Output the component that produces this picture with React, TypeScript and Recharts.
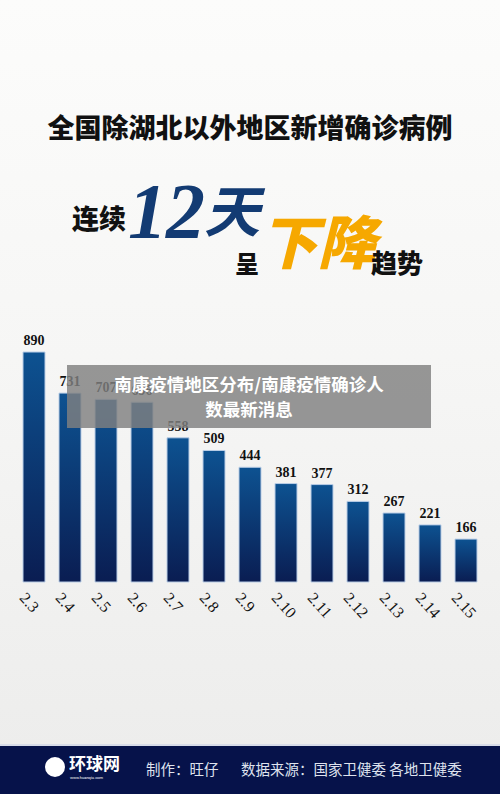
import { BarChart, Bar, XAxis, YAxis, LabelList } from 'recharts'

const dates = ['2.3', '2.4', '2.5', '2.6', '2.7', '2.8', '2.9', '2.10', '2.11', '2.12', '2.13', '2.14', '2.15']
const newCases = [890, 731, 707, 696, 558, 509, 444, 381, 377, 312, 267, 221, 166]

const data = dates.map((d, i) => ({ date: d, cases: newCases[i] }))

const serif = '"Liberation Serif", "DejaVu Serif", serif'
const cjk = '"Noto Sans CJK SC", sans-serif'

function DateTick({ x, y, payload }: any) {
    const tx = x - 7
    const ty = y + 1
    return (
        <text
            x={tx}
            y={ty}
            transform={`rotate(48, ${tx}, ${ty})`}
            fontFamily={serif}
            fontSize={16}
            fill="#111"
            textAnchor="start"
            dominantBaseline="hanging"
        >
            {payload.value}
        </text>
    )
}

function App() {
    return (
        <div
            style={{
                position: 'absolute',
                left: 0,
                top: 0,
                width: 500,
                height: 794,
                overflow: 'hidden',
                background: 'linear-gradient(180deg, #fcfcfb 0%, #f6f6f5 45%, #ececeb 100%)',
                fontFamily: cjk,
            }}
        >
            <div
                style={{
                    position: 'absolute',
                    top: 107,
                    left: 0,
                    width: 500,
                    textAlign: 'center',
                    fontSize: 27,
                    fontWeight: 900,
                    color: '#111',
                    lineHeight: '40px',
                }}
            >
                全国除湖北以外地区新增确诊病例
            </div>

            <div style={{ position: 'absolute', left: 72, top: 200, fontSize: 27, fontWeight: 900, color: '#111', lineHeight: '36px' }}>
                连续
            </div>
            <div
                style={{
                    position: 'absolute',
                    left: 128,
                    top: 178,
                    fontFamily: serif,
                    fontStyle: 'italic',
                    fontWeight: 700,
                    fontSize: 78,
                    color: '#133b73',
                    lineHeight: '66px',
                    height: 66,
                    letterSpacing: -1,
                }}
            >
                12
                <span
                    style={{
                        display: 'inline-block',
                        fontFamily: cjk,
                        fontSize: 56,
                        fontStyle: 'italic',
                        lineHeight: '56px',
                        height: 56,
                        verticalAlign: 'top',
                        marginTop: 2,
                    }}
                >
                    天
                </span>
            </div>
            <div style={{ position: 'absolute', left: 235, top: 250, fontSize: 24, fontWeight: 900, color: '#111', lineHeight: '26px' }}>
                呈
            </div>
            <div
                style={{
                    position: 'absolute',
                    left: 260,
                    top: 204,
                    fontSize: 58,
                    fontWeight: 900,
                    fontStyle: 'italic',
                    color: '#f6a800',
                    lineHeight: '70px',
                }}
            >
                下降
            </div>
            <div style={{ position: 'absolute', left: 371, top: 244, fontSize: 26, fontWeight: 900, color: '#111', lineHeight: '36px' }}>
                趋势
            </div>

            <div style={{ position: 'absolute', left: 0, top: 300 }}>
                <BarChart width={500} height={340} data={data} margin={{ top: 23.6, right: 16, bottom: 0, left: 16 }}>
                    <defs>
                        <linearGradient id="barFill" x1="0" y1="0" x2="0" y2="1">
                            <stop offset="0%" stopColor="#0d5291" />
                            <stop offset="100%" stopColor="#0a1d52" />
                        </linearGradient>
                    </defs>
                    <XAxis
                        dataKey="date"
                        height={58}
                        axisLine={false}
                        tickLine={false}
                        interval={0}
                        tick={<DateTick />}
                    />
                    <YAxis hide domain={[0, 1000]} />
                    <Bar
                        dataKey="cases"
                        barSize={22}
                        fill="url(#barFill)"
                        stroke="#b9cde6"
                        strokeWidth={1}
                        isAnimationActive={false}
                    >
                        <LabelList
                            dataKey="cases"
                            position="top"
                            offset={7}
                            fill="#111"
                            fontSize={14}
                            fontWeight={700}
                            fontFamily={serif}
                        />
                    </Bar>
                </BarChart>
            </div>

            <div
                style={{
                    position: 'absolute',
                    left: 67,
                    top: 365,
                    width: 364,
                    height: 63,
                    background: 'rgba(128,128,128,0.82)',
                    color: '#fff',
                    fontSize: 17.5,
                    fontWeight: 700,
                    textAlign: 'center',
                    lineHeight: '25px',
                    paddingTop: 6,
                    boxSizing: 'border-box',
                }}
            >
                南康疫情地区分布/南康疫情确诊人
                <br />
                数最新消息
            </div>

            <div style={{ position: 'absolute', left: 0, top: 744, width: 500, height: 2, background: '#d8dce8' }} />
            <div
                style={{
                    position: 'absolute',
                    left: 0,
                    top: 746,
                    width: 500,
                    height: 48,
                    background: '#06124a',
                    color: '#dfe3ee',
                    fontSize: 14.5,
                }}
            >
                <div
                    style={{
                        position: 'absolute',
                        left: 45,
                        top: 11,
                        width: 20,
                        height: 20,
                        borderRadius: 10,
                        background: '#fff',
                    }}
                />
                <div style={{ position: 'absolute', left: 69, top: 7, fontSize: 17, fontWeight: 700, color: '#fff', lineHeight: '20px' }}>
                    环球网
                </div>
                <div style={{ position: 'absolute', left: 70, top: 29, fontSize: 4, color: '#fff', fontFamily: 'Roboto', lineHeight: '5px' }}>
                    www.huanqiu.com
                </div>
                <div style={{ position: 'absolute', left: 146, top: 12, lineHeight: '22px' }}>制作：旺仔</div>
                <div style={{ position: 'absolute', left: 241, top: 12, lineHeight: '22px' }}>数据来源：国家卫健委 各地卫健委</div>
            </div>
        </div>
    )
}

export default App
